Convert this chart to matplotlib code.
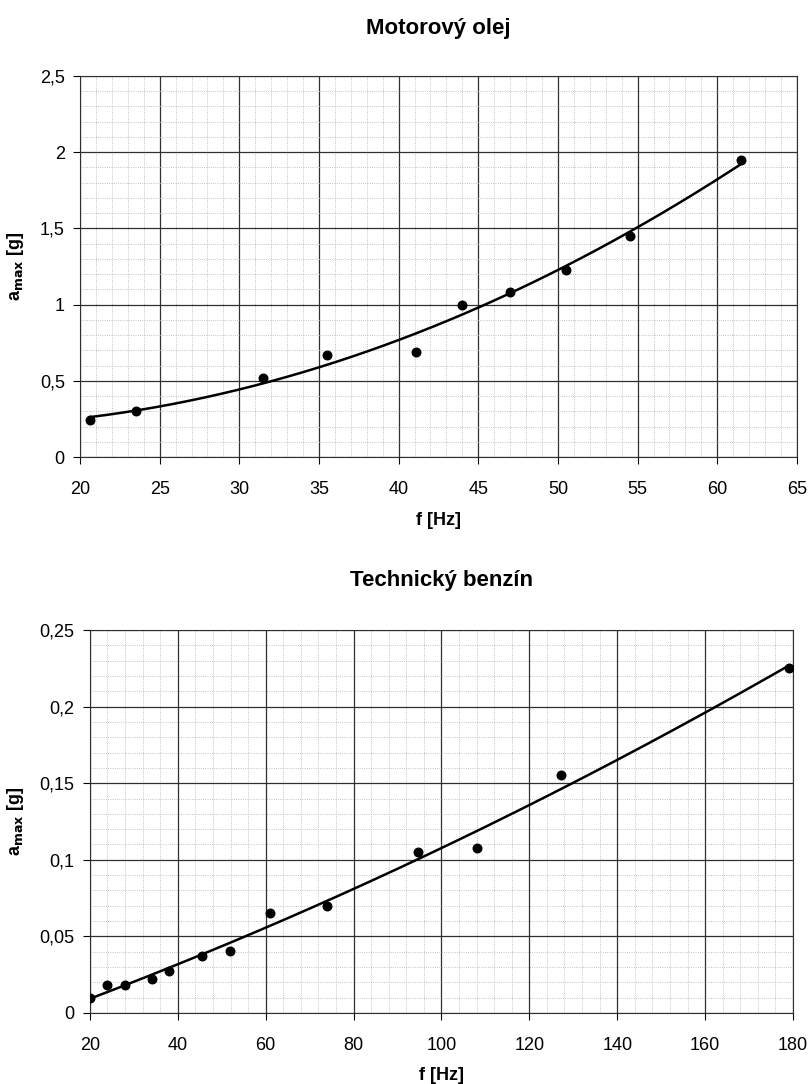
import numpy as np
import matplotlib.pyplot as plt
from matplotlib.ticker import MultipleLocator, FuncFormatter

# Motorový olej
f_olej = [20.6, 23.5, 31.5, 35.5, 41.1, 44.0, 47.0, 50.5, 54.5, 61.5]
a_olej = [0.24, 0.30, 0.52, 0.67, 0.69, 1.00, 1.08, 1.23, 1.45, 1.95]

# Technický benzín
f_benzin = [20.0, 24.0, 28.0, 34.1, 38.1, 45.5, 51.9, 60.9, 74.0, 94.7, 108.1, 127.1, 179.1]
a_benzin = [0.010, 0.018, 0.018, 0.0224, 0.0276, 0.0374, 0.0402, 0.0652, 0.070, 0.1054, 0.1076, 0.1552, 0.2252]

plt.rcParams['font.family'] = ['Liberation Sans', 'DejaVu Sans']

def carka(v, pos):
    return ('%g' % round(v, 4)).replace('.', ',')

def graf(ax, f, a, titul, xlim, ylim, xmaj, xmin, ymaj, ymin, tpad):
    # polynomicky trend 2. radu (jako v Excelu)
    p = np.polyfit(f, a, 2)
    ff = np.linspace(min(f), max(f), 200)
    ax.plot(ff, np.polyval(p, ff), color='black', lw=1.8, zorder=3)
    ax.scatter(f, a, s=38, color='black', zorder=4)
    ax.set_xlim(*xlim)
    ax.set_ylim(*ylim)
    ax.xaxis.set_major_locator(MultipleLocator(xmaj))
    ax.xaxis.set_minor_locator(MultipleLocator(xmin))
    ax.yaxis.set_major_locator(MultipleLocator(ymaj))
    ax.yaxis.set_minor_locator(MultipleLocator(ymin))
    ax.xaxis.set_major_formatter(FuncFormatter(carka))
    ax.yaxis.set_major_formatter(FuncFormatter(carka))
    ax.grid(which='major', color='#303030', lw=0.9)
    ax.grid(which='minor', color='#b0b0b0', lw=0.6, ls=':')
    ax.set_axisbelow(True)
    ax.tick_params(which='major', direction='out', length=5, labelsize=13)
    ax.tick_params(axis='x', which='major', pad=12)
    ax.tick_params(axis='y', which='major', pad=6)
    ax.tick_params(which='minor', length=0)
    for s in ax.spines.values():
        s.set_color('#303030')
    ax.set_title(titul, fontsize=16, fontweight='bold', pad=tpad)
    ax.set_xlabel('f [Hz]', fontsize=13, fontweight='bold', labelpad=10)
    ax.set_ylabel(r'a$_{\mathbf{max}}$ [g]', fontsize=13, fontweight='bold', labelpad=10)

fig = plt.figure(figsize=(8.1, 10.84), dpi=100)
ax1 = fig.add_axes([0.0988, 0.5784, 0.885, 0.3515])
ax2 = fig.add_axes([0.111, 0.0655, 0.868, 0.3533])

graf(ax1, f_olej, a_olej, 'Motorový olej', (20, 65), (0, 2.5), 5, 1, 0.5, 0.1, 30)
graf(ax2, f_benzin, a_benzin, 'Technický benzín', (20, 180), (0, 0.25), 20, 4, 0.05, 0.01, 32)

fig.savefig('out.png', dpi=100)
